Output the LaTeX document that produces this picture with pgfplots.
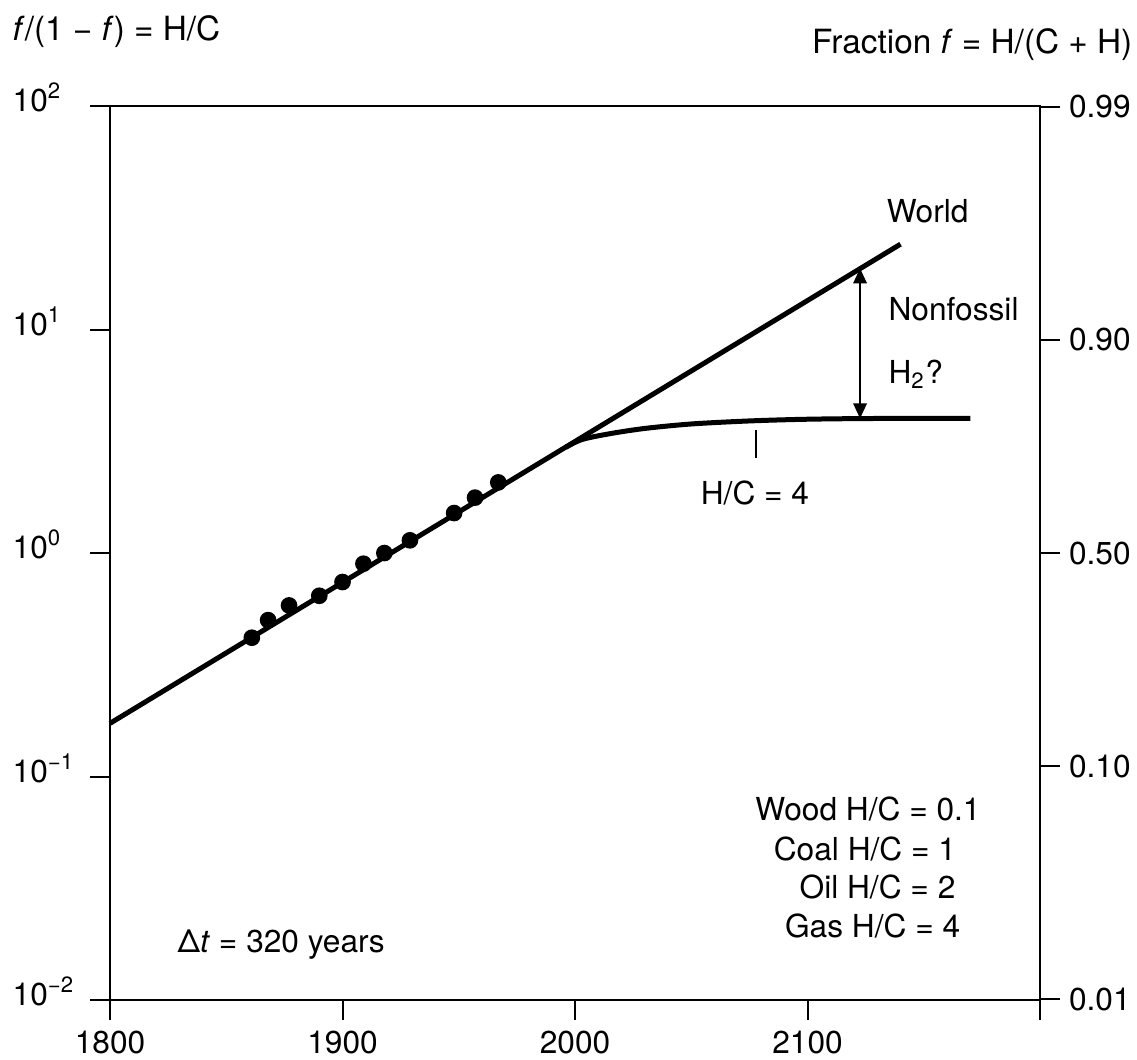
\documentclass[border=0pt]{standalone}
\usepackage{fontspec}
\setmainfont{TeX Gyre Heros}
\usepackage{pgfplots}
\pgfplotsset{compat=1.18}
\usetikzlibrary{arrows.meta}

\pgfplotsset{
  hcaxis/.style={
    width=279pt, height=268.2pt, scale only axis,
    xmin=1800, xmax=2200,
    ymin=0.01, ymax=100,
    yminorticks=false,
    tick align=outside,
    major tick length=6pt,
    every tick/.style={black, line width=0.6pt},
    axis line style={line width=0.6pt},
    ticklabel style={font=\fontsize{9.5}{11}\selectfont},
    clip=false,
  }
}

\begin{document}
\fontsize{9.5}{11.5}\selectfont
\begin{tikzpicture}
% right axis: fraction f
\begin{axis}[ymode=log, hcaxis,
  /pgf/number format/assume math mode=true,
  hide x axis,
  ytick pos=right,
  ytick={0.010101,0.111111,1,9,99},
  yticklabels={0.01,0.10,0.50,0.90,0.99},
  yticklabel style={inner xsep=0.5pt, xshift=2pt},
]
\end{axis}

\begin{axis}[ymode=log, hcaxis,
  /pgf/number format/assume math mode=true,
  xtick={1800,1900,2000,2100,2200},
  xticklabels={1800,1900,2000,2100,{}},
  xtick pos=bottom,
  xticklabel style={inner ysep=1pt, yshift=-2pt},
  ytick={0.01,0.1,1,10,100},
  yticklabels={10\textsuperscript{−2},10\textsuperscript{−1},10\textsuperscript{0},10\textsuperscript{1},10\textsuperscript{2}},
  ytick pos=left,
  yticklabel style={anchor=east, text width=23pt, align=left, inner sep=0pt, yshift=2.5pt},
]
% world H/C trend
\addplot[line width=1.5pt] coordinates {(1800,0.173) (2140,24.1)};
% gas limit H/C = 4
\addplot[line width=1.5pt, smooth] coordinates {
  (1996,2.97) (2003,3.22) (2015,3.42) (2030,3.61) (2050,3.78)
  (2075,3.90) (2100,3.97) (2130,4.0) (2170,4.0)};
% historical points
\addplot[only marks, mark=*, mark size=2.3pt] coordinates {
  (1861,0.418) (1868,0.501) (1877,0.583) (1890,0.644) (1900,0.742)
  (1909,0.896) (1918,1.00) (1929,1.14) (1948,1.51) (1957,1.77) (1967,2.07)};
% nonfossil arrow
\addplot[line width=0.6pt, {Triangle[length=4.5pt,width=4pt]}-{Triangle[length=4.5pt,width=4pt]}]
  coordinates {(2122.6,18.8) (2122.6,4.0)};
% marker above H/C = 4 label
\addplot[line width=0.6pt] coordinates {(2077.7,3.55) (2077.7,2.66)};

\node[anchor=base west, inner sep=0pt] at (axis cs:2133.8,30.0) {World};
\node[anchor=base west, inner sep=0pt] at (axis cs:2134.6,11.0) {Nonfossil};
\node[anchor=base west, inner sep=0pt] at (axis cs:2134.6,5.76) {H\textsubscript{2}?};
\node[inner sep=0pt] at (axis cs:2077.4,1.86) {H/C = 4};
\node[anchor=base, inner sep=0pt] at (axis cs:2126,0.0638) {Wood H/C = 0.1};
\node[anchor=base, inner sep=0pt] at (axis cs:2124.7,0.0423) {Coal H/C = 1};
\node[anchor=base, inner sep=0pt] at (axis cs:2130.1,0.0286) {Oil H/C = 2};
\node[anchor=base, inner sep=0pt] at (axis cs:2128,0.0191) {Gas H/C = 4};
\node[anchor=base west, inner sep=0pt] at (axis cs:1828.8,0.0164) {Δ\textit{t} = 320 years};

\node[anchor=base west, inner sep=0pt, font=\fontsize{10}{12}\selectfont]
  at (rel axis cs:-0.1054,1.0738) {\textit{f}/(1 − \textit{f}) = H/C};
\node[anchor=base east, inner sep=0pt, font=\fontsize{10}{12}\selectfont]
  at (rel axis cs:1.100,1.0593) {Fraction \textit{f} = H/(C + H)};

% page extent of the reference
\path (rel axis cs:-0.1183,-0.066) rectangle (rel axis cs:1.1043,1.1186);
\end{axis}
\end{tikzpicture}
\end{document}
